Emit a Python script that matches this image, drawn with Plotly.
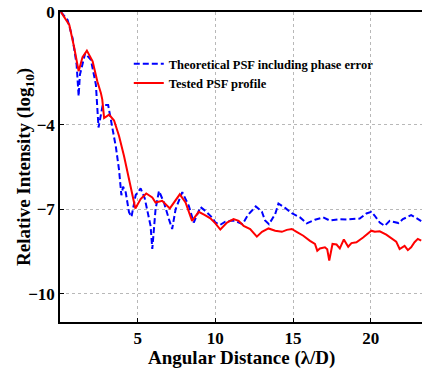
import plotly.graph_objects as go

# Tested PSF profile (red solid)
tested_x = [0.06, 0.6, 0.92, 1.2, 1.45, 1.73, 2.1, 2.4, 2.63, 2.72, 2.84, 3.16, 3.48, 3.8,
            4.12, 4.34, 4.55, 4.85, 5.19, 5.55, 5.94, 6.15, 6.58, 7.07, 7.71, 8.08, 8.5,
            8.93, 9.3, 9.68, 10.0, 10.32, 10.75, 11.17, 11.5, 11.82, 12.24, 12.67, 13.0,
            13.42, 13.85, 14.28, 14.6, 14.92, 15.23, 15.66, 16.09, 16.41, 16.56, 16.73,
            17.05, 17.2, 17.33, 17.54, 17.8, 18.01, 18.27, 18.55, 18.76, 19.08, 19.51,
            19.83, 20.04, 20.26, 20.58, 21.0, 21.43, 21.64, 21.86, 22.18, 22.39, 22.6,
            22.82, 23.03, 23.25]
tested_y = [0, -0.46, -1.28, -2.1, -1.6, -1.37, -1.75, -2.46, -2.87, -3.1, -3.76, -3.64,
            -3.85, -4.4, -5.11, -5.7, -6.27, -6.97, -6.64, -6.44, -6.58, -6.76, -6.7,
            -6.97, -6.47, -6.76, -7.41, -7.09, -7.2, -7.32, -7.5, -7.72, -7.47, -7.35,
            -7.41, -7.59, -7.7, -7.97, -7.8, -7.68, -7.76, -7.8, -7.73, -7.7, -7.8, -7.94,
            -8.12, -8.23, -8.47, -8.39, -8.35, -8.42, -8.82, -8.23, -8.25, -8.39, -8.07,
            -8.33, -8.2, -8.17, -8.0, -7.84, -7.76, -7.8, -7.78, -7.9, -8.06, -8.15,
            -8.41, -8.3, -8.45, -8.35, -8.17, -8.05, -8.11]

# Theoretical PSF including phase error (blue dashed)
theory_x = [0.06, 0.49, 0.81, 1.07, 1.2, 1.28, 1.62, 1.99, 2.31, 2.48, 2.75, 3.1, 3.4,
            3.6, 3.8, 3.95, 4.06, 4.23, 4.44, 4.6, 4.87, 5.19, 5.45, 5.83, 5.94, 6.15,
            6.37, 6.69, 7.01, 7.22, 7.44, 7.87, 8.29, 8.61, 9.04, 9.36, 9.79, 10.0,
            10.32, 10.64, 10.96, 11.28, 11.75, 12.1, 12.6, 12.99, 13.2, 13.45, 13.85,
            14.06, 14.49, 14.92, 15.45, 15.88, 16.41, 16.94, 17.37, 17.58, 18.01, 18.5,
            19.0, 19.29, 19.72, 20.04, 20.26, 20.58, 20.9, 21.22, 21.5, 21.8, 22.07,
            22.3, 22.6, 22.9, 23.25]
theory_y = [0, -0.28, -0.93, -1.87, -2.99, -2.23, -1.46, -1.7, -2.58, -4.1, -3.3, -3.3,
            -4.2, -4.8, -5.6, -6.5, -6.2, -6.4, -7.1, -7.27, -6.5, -6.26, -6.6, -7.59,
            -8.41, -7.0, -6.35, -6.76, -7.35, -7.7, -7.0, -6.39, -6.88, -7.47, -6.92,
            -7.06, -7.29, -7.47, -7.55, -7.44, -7.41, -7.41, -7.53, -7.2, -6.9, -7.08,
            -7.4, -7.53, -7.17, -6.8, -6.95, -7.14, -7.29, -7.5, -7.37, -7.29, -7.4,
            -7.38, -7.35, -7.36, -7.35, -7.33, -7.15, -7.09, -7.23, -7.47, -7.59, -7.41,
            -7.45, -7.49, -7.35, -7.3, -7.21, -7.3, -7.42]

x_ticks = [5, 10, 15, 20]
y_ticks = [0, -4, -7, -10]
x_title = "Angular Distance (λ/D)"
y_title = "Relative Intensity (log<sub>10</sub>)"

FONT = "Liberation Serif, Times New Roman, serif"

fig = go.Figure()
fig.add_trace(go.Scatter(
    x=theory_x, y=theory_y, mode="lines",
    name="Theoretical PSF including phase error",
    line=dict(color="#0000ff", width=2, dash="6px,3px")))
fig.add_trace(go.Scatter(
    x=tested_x, y=tested_y, mode="lines",
    name="Tested PSF profile",
    line=dict(color="#ff0000", width=2)))

axis_common = dict(
    showline=True, linecolor="black", linewidth=1.5, mirror=True,
    showgrid=True, gridcolor="#b8b8b8", griddash="dot", gridwidth=1,
    zeroline=False, ticks="inside", ticklen=4, tickcolor="black",
    automargin=False, ticklabeloverflow="allow",
    tickfont=dict(family=FONT, size=17, color="black", weight="bold"),
)

fig.update_layout(
    width=422, height=370,
    margin=dict(l=60, r=0, t=12, b=48, autoexpand=False),
    paper_bgcolor="white", plot_bgcolor="white",
    showlegend=True,
    legend=dict(x=0.19, y=0.88, xanchor="left", yanchor="top",
                bgcolor="rgba(0,0,0,0)", borderwidth=0,
                font=dict(family=FONT, size=12.5, color="black", weight="bold"),
                tracegroupgap=0, itemwidth=30),
    xaxis=dict(range=[0, 23.3], tickvals=x_ticks, **axis_common),
    yaxis=dict(range=[-11, 0], tickvals=y_ticks, **axis_common),
    annotations=[
        dict(text=x_title, xref="paper", yref="paper", x=0.5, y=-0.075,
             xanchor="center", yanchor="top", showarrow=False,
             font=dict(family=FONT, size=19, color="black", weight="bold")),
        dict(text=y_title, xref="paper", yref="paper", x=-0.097, y=0.5,
             xanchor="center", yanchor="middle", textangle=-90, showarrow=False,
             font=dict(family=FONT, size=19, color="black", weight="bold")),
    ],
)

# remove the browser's default 8px body margin so the figure fills the window
fig.write_html("out.html",
               config={"displayModeBar": False},
               post_script="document.body.style.margin='0px';"
                           "document.body.style.overflow='hidden';")
